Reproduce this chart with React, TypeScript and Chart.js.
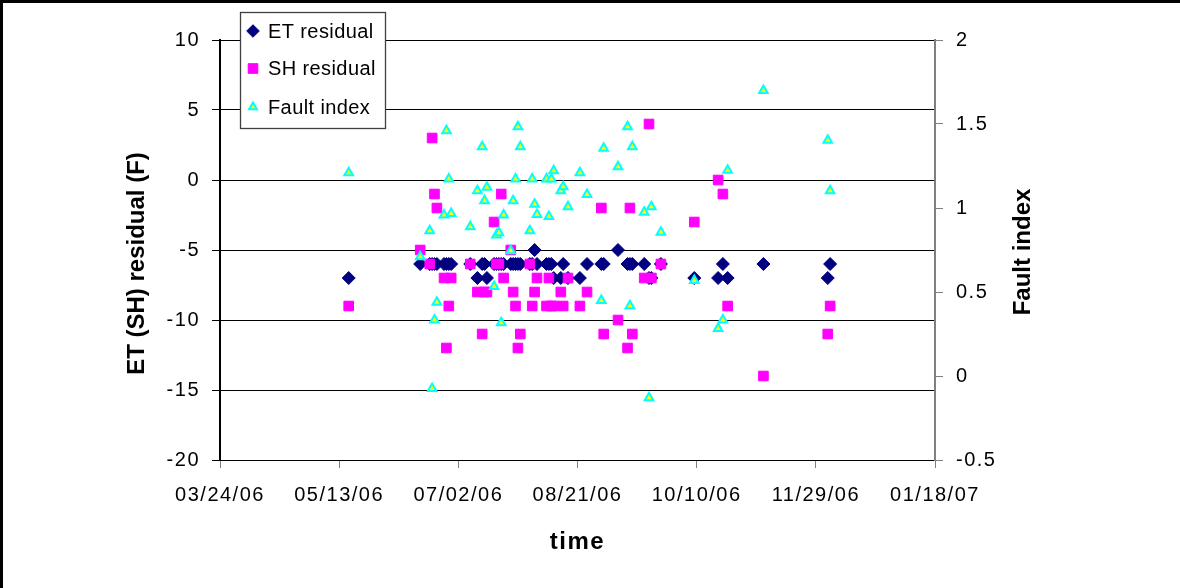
import { useEffect, useRef } from "react";
import { Chart, registerables } from "chart.js";
import { drawPoint } from "chart.js/helpers";

Chart.register(...registerables);

// Sample dates (MM/DD/YY) shared by the three series
const sampleDates = [
  "05/17/06", "06/16/06", "06/20/06", "06/21/06", "06/22/06", "06/23/06", "06/26/06",
  "06/27/06", "06/28/06", "06/29/06", "07/07/06", "07/10/06", "07/12/06", "07/13/06",
  "07/14/06", "07/17/06", "07/18/06", "07/19/06", "07/20/06", "07/21/06", "07/24/06",
  "07/25/06", "07/26/06", "07/27/06", "07/28/06", "08/01/06", "08/02/06", "08/03/06",
  "08/04/06", "08/08/06", "08/09/06", "08/10/06", "08/11/06", "08/14/06", "08/15/06",
  "08/17/06", "08/22/06", "08/25/06", "08/31/06", "09/01/06", "09/07/06", "09/11/06",
  "09/12/06", "09/13/06", "09/18/06", "09/20/06", "09/21/06", "09/25/06", "10/09/06",
  "10/19/06", "10/21/06", "10/23/06", "11/07/06", "12/04/06", "12/05/06",
];

// ET residual (F)
const etResidual = [
  -7, -6, -6, -6, -6, -6, -6,
  -6, -6, -6, -6, -7, -6, -6,
  -7, -6, -6, -6, -6, -6, -6,
  -6, -6, -6, -6, -6, -6, -5,
  -6, -6, -6, -6, -7, -7, -6,
  -7, -7, -6, -6, -6, -5, -6,
  -6, -6, -6, -7, -7, -6, -7,
  -7, -6, -7, -6, -7, -6,
];

// SH residual (F)
const shResidual = [
  -9, -5, -6, 3, -1, -2, -7,
  -12, -9, -7, -6, -8, -11, -8,
  -8, -3, -6, -6, -1, -7, -5,
  -8, -9, -12, -11, -6, -9, -8,
  -7, -9, -7, -9, -9, -8, -9,
  -7, -9, -8, -2, -11, -10, -12,
  -2, -11, -7, 4, -7, -6, -3,
  0, -1, -9, -14, -11, -9,
];

// Fault index (right axis)
const faultIndex = [
  1.21, 0.71, 0.865, -0.074, 0.333, 0.439, 0.958,
  1.46, 1.173, 0.968, 0.889, 1.103, 1.365, 1.043,
  1.123, 0.532, 0.839, 0.853, 0.317, 0.958, 0.746,
  1.043, 1.173, 1.484, 1.365, 0.865, 1.173, 1.022,
  0.962, 1.173, 0.95, 1.173, 1.222, 1.103, 1.127,
  1.008, 1.21, 1.081, 0.45, 1.355, 1.246, 1.484,
  0.418, 1.365, 0.974, -0.13, 1.008, 0.855, 0.568,
  0.282, 0.333, 1.224, 1.7, 1.403, 1.103,
];

// Axis ranges and tick spacing
const timeAxisStart = "03/24/06";
const timeAxisEnd = "01/18/07";
const timeTickStepDays = 50;
const residualAxis = [-20, 10, 5];
const faultAxis = [-0.5, 2, 0.5];

const seriesLabels = ["ET residual", "SH residual", "Fault index"];
const timeTitle = "time";
const residualTitle = "ET (SH) residual (F)";
const faultTitle = "Fault index";

const DAY_MS = 86400000;
const FONT = "'Liberation Sans', Arial, Helvetica, sans-serif";

function parseDate(s: string): number {
  const [m, d, y] = s.split("/").map(Number);
  return Date.UTC(2000 + y, m - 1, d);
}

function formatDate(v: number): string {
  const dt = new Date(v);
  const p = (n: number) => String(n).padStart(2, "0");
  return `${p(dt.getUTCMonth() + 1)}/${p(dt.getUTCDate())}/${p(dt.getUTCFullYear() % 100)}`;
}

function toPoints(values: (number | null)[]) {
  return sampleDates
    .map((d, i) => ({ x: parseDate(d), y: values[i] }))
    .filter((p) => p.y !== null && p.y !== undefined);
}

function drawVerticalTitle(ctx: CanvasRenderingContext2D, text: string, x: number, y: number) {
  ctx.save();
  ctx.translate(x, y);
  ctx.rotate(-Math.PI / 2);
  ctx.fillStyle = "#000000";
  ctx.font = `bold 24px ${FONT}`;
  ctx.textAlign = "center";
  ctx.textBaseline = "middle";
  ctx.fillText(text, 0, 0);
  ctx.restore();
}

// Page frame, wide axis lettering, in-plot legend and the vertical axis titles
const decorPlugin = {
  id: "decor",
  beforeDraw(chart: any) {
    const { ctx, width, height } = chart;
    ctx.save();
    ctx.fillStyle = "#ffffff";
    ctx.fillRect(0, 0, width, height);
    ctx.restore();
    // axis lettering is set slightly wide
    (ctx as any).letterSpacing = "1.5px";
  },
  beforeDatasetsDraw(chart: any) {
    (chart.ctx as any).letterSpacing = "0px";
  },
  afterDraw(chart: any) {
    const { ctx } = chart;
    (ctx as any).letterSpacing = "0px";
    ctx.save();

    // legend box
    const bx = 240, by = 12, bw = 145, bh = 116;
    ctx.fillStyle = "#ffffff";
    ctx.fillRect(bx, by, bw, bh);
    ctx.strokeStyle = "#404040";
    ctx.lineWidth = 1.3;
    ctx.strokeRect(bx + 0.5, by + 0.5, bw, bh);

    const rowY = [31, 68.5, 107];
    const legendRadius = [6.3, 6.8, 4.6];
    chart.data.datasets.forEach((ds: any, i: number) => {
      ctx.fillStyle = ds.backgroundColor;
      ctx.strokeStyle = ds.borderColor;
      ctx.lineWidth = ds.borderWidth;
      drawPoint(
        ctx,
        { pointStyle: ds.pointStyle, radius: legendRadius[i], rotation: 0, borderWidth: ds.borderWidth },
        253,
        rowY[i]
      );
      ctx.fillStyle = "#000000";
      ctx.font = `20px ${FONT}`;
      (ctx as any).letterSpacing = "0.4px";
      ctx.textAlign = "left";
      ctx.textBaseline = "middle";
      ctx.fillText(ds.label, 268, rowY[i] + 1);
      (ctx as any).letterSpacing = "0px";
    });
    ctx.restore();

    // vertical axis titles, reading bottom to top
    const area = chart.chartArea;
    const midY = (area.top + area.bottom) / 2;
    drawVerticalTitle(ctx, residualTitle, 137.5, midY + 13.5);
    drawVerticalTitle(ctx, faultTitle, 1023, midY + 2);

    // page frame (left and top edges)
    ctx.save();
    ctx.fillStyle = "#000000";
    ctx.fillRect(0, 0, 3, chart.height);
    ctx.fillRect(0, 0, chart.width, 3);
    ctx.restore();
  },
};

export default function App() {
  const canvasRef = useRef<HTMLCanvasElement | null>(null);

  useEffect(() => {
    if (!canvasRef.current) return;
    const tickFont = { family: FONT, size: 20 };
    const titleFont = { family: FONT, size: 24, weight: "bold" as const };

    const chart = new Chart(canvasRef.current, {
      type: "scatter",
      data: {
        datasets: [
          {
            label: seriesLabels[0],
            data: toPoints(etResidual),
            yAxisID: "y",
            pointStyle: "rectRot",
            pointRadius: 6.5,
            backgroundColor: "#000080",
            borderColor: "#000080",
            borderWidth: 1,
            order: 3,
          },
          {
            label: seriesLabels[1],
            data: toPoints(shResidual),
            yAxisID: "y",
            pointStyle: "rect",
            pointRadius: 6.8,
            backgroundColor: "#ff00ff",
            borderColor: "#ff00ff",
            borderWidth: 1,
            order: 2,
          },
          {
            label: seriesLabels[2],
            data: toPoints(faultIndex),
            yAxisID: "y2",
            pointStyle: "triangle",
            pointRadius: 5,
            backgroundColor: "#ffff00",
            borderColor: "#00ffff",
            borderWidth: 2,
            order: 1,
          },
        ] as any,
      },
      options: {
        responsive: false,
        animation: false,
        events: [],
        layout: { padding: { left: 0, right: 0, top: 40, bottom: 0 } },
        plugins: {
          legend: { display: false },
          tooltip: { enabled: false },
        },
        scales: {
          x: {
            type: "linear",
            position: "bottom",
            min: parseDate(timeAxisStart),
            max: parseDate(timeAxisEnd),
            ticks: {
              stepSize: timeTickStepDays * DAY_MS,
              autoSkip: false,
              maxRotation: 0,
              color: "#000000",
              font: tickFont,
              padding: 15,
              callback: (v: any) => formatDate(Number(v)),
            },
            grid: {
              display: true,
              drawOnChartArea: false,
              drawTicks: true,
              tickLength: 8,
              color: "#808080",
              tickColor: "#808080",
            },
            border: { display: true, color: "#000000", width: 1 },
            title: {
              display: true,
              text: timeTitle,
              color: "#000000",
              font: titleFont,
              padding: { top: 0, bottom: 31 },
            },
            afterFit: (s: any) => {
              s.height = 128;
            },
          },
          y: {
            type: "linear",
            position: "left",
            min: residualAxis[0],
            max: residualAxis[1],
            ticks: {
              stepSize: residualAxis[2],
              color: "#000000",
              font: tickFont,
              padding: 12,
              callback: (v: any) => String(v),
            },
            grid: {
              color: "#000000",
              lineWidth: 1,
              tickLength: 8,
              tickColor: "#000000",
            },
            border: { display: true, color: "#000000", width: 2 },
            afterFit: (s: any) => {
              s.width = 220;
            },
          },
          y2: {
            type: "linear",
            position: "right",
            min: faultAxis[0],
            max: faultAxis[1],
            ticks: {
              stepSize: faultAxis[2],
              color: "#000000",
              font: tickFont,
              padding: 13,
              callback: (v: any) => String(v),
            },
            grid: {
              drawOnChartArea: false,
              tickLength: 8,
              color: "#808080",
              tickColor: "#808080",
            },
            border: { display: true, color: "#808080", width: 2 },
            afterFit: (s: any) => {
              s.width = 245;
            },
          },
        },
      } as any,
      plugins: [decorPlugin],
    });

    return () => chart.destroy();
  }, []);

  return (
    <div style={{ position: "fixed", left: 0, top: 0, width: 1180, height: 588, background: "#ffffff" }}>
      <canvas ref={canvasRef} width={1180} height={588} style={{ display: "block" }} />
    </div>
  );
}
